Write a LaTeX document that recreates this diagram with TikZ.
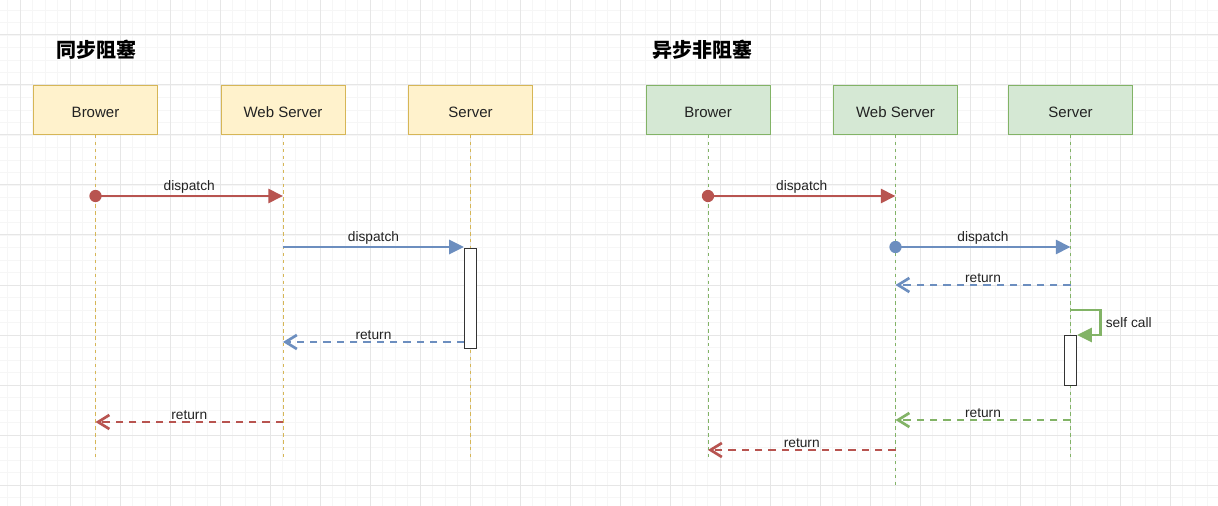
\documentclass[tikz,border=0pt]{standalone}
\usepackage{fontspec}
\setmainfont{Liberation Sans}
\newfontfamily\cjk{Noto Sans CJK SC}
\usepackage{tikz}
\usetikzlibrary{
    arrows.meta,
    positioning,
    calc
}
\definecolor{yfill}{HTML}{FFF2CC}
\definecolor{ystroke}{HTML}{D6B656}
\definecolor{gfill}{HTML}{D5E8D4}
\definecolor{gstroke}{HTML}{82B366}
\definecolor{msgred}{HTML}{B85450}
\definecolor{msgblue}{HTML}{6C8EBF}
\definecolor{gridminor}{HTML}{F6F6F6}
\definecolor{gridmajor}{HTML}{E6E6E6}
\definecolor{textgray}{HTML}{222222}
\tikzset{
    actor/.style={
        rectangle,
        minimum width=93pt,
        minimum height=36.75pt,
        text centered,
        text height=11pt,
        text depth=0pt,
        text=textgray,
        font=\fontsize{11.25}{13}\selectfont,
        line width=0.75pt
    },
    yellowactor/.style={actor, draw=ystroke, fill=yfill},
    greenactor/.style={actor, draw=gstroke, fill=gfill},
    lifeline/.style={
        line width=0.75pt,
        dash pattern=on 2.6pt off 2.6pt
    },
    call/.style={
        -{Triangle[length=11pt, width=10.5pt]},
        line width=2pt
    },
    reply/.style={
        -{Straight Barb[length=8.5pt, width=10.5pt]},
        line width=2pt,
        dash pattern=on 5.5pt off 4.5pt
    },
    msglabel/.style={
        above,
        inner sep=1pt,
        text=textgray,
        font=\fontsize{10.3}{12}\selectfont
    },
    activation/.style={
        rectangle,
        draw=black!80,
        fill=white,
        line width=0.9pt,
        minimum width=9pt,
        inner sep=0pt,
        anchor=north
    },
    heading/.style={
        text=black,
        font=\cjk\bfseries\fontsize{15}{18}\selectfont
    }
}

\begin{document}
\begin{tikzpicture}[x=0.75pt, y=-0.75pt]
    \useasboundingbox (0,0) rectangle (1218,506);
    \fill[white] (0,0) rectangle (1218,506);

    % Grid
    \foreach \gx in {7.5,20,...,1218} {
        \draw[gridminor, line width=0.6pt] (\gx,0) -- (\gx,506);
    }
    \foreach \gy in {10,22.5,...,506} {
        \draw[gridminor, line width=0.6pt] (0,\gy) -- (1218,\gy);
    }
    \foreach \gx in {20,70,...,1218} {
        \draw[gridmajor, line width=0.75pt] (\gx,0) -- (\gx,506);
    }
    \foreach \gy in {35,85,...,506} {
        \draw[gridmajor, line width=0.75pt] (0,\gy) -- (1218,\gy);
    }

    % Titles
    \node[heading] (title1) at (96,50) {同步阻塞};
    \node[heading] (title2) at (702,50) {异步非阻塞};

    % Actors
    \node[yellowactor] (brower1) at (95.5,110) {Brower};
    \node[yellowactor, right=46.875pt of brower1] (web1) {Web Server};
    \node[yellowactor, right=46.875pt of web1] (server1) {Server};

    \node[greenactor] (brower2) at (708,110) {Brower};
    \node[greenactor, right=46.875pt of brower2] (web2) {Web Server};
    \node[greenactor, right=37.5pt of web2] (server2) {Server};

    % Lifelines
    \foreach \n/\e/\c in {
        brower1/460/ystroke,
        web1/460/ystroke,
        server1/460/ystroke,
        brower2/460/gstroke,
        web2/485/gstroke,
        server2/460/gstroke%
    } {
        \coordinate (\n-end) at (\n.south |- 0,\e);
        \draw[lifeline, draw=\c] (\n.south) -- (\n-end);
    }

    % Activations
    \node[activation, minimum height=75pt] (act1) at (server1 |- 0,248) {};
    \node[activation, minimum height=37.5pt] (act2) at (server2 |- 0,335) {};

    % Message points
    \foreach \n/\y/\p in {
        brower1/196/s1, web1/196/s2,
        web1/247/s3,
        web1/342/s5,
        web1/422/s6, brower1/422/s7,
        brower2/196/a1, web2/196/a2,
        web2/247/a3, server2/247/a4,
        server2/285/a5, web2/285/a6,
        server2/310/a7,
        server2/420/a8, web2/420/a9,
        web2/450/a10, brower2/450/a11%
    } {
        \coordinate (\p) at (\n |- 0,\y);
    }
    \coordinate (s3e) at (act1.west |- s3);
    \coordinate (s4) at (act1.west |- s5);

    % Synchronous arrows
    \draw[call, msgred] (s1) -- node[msglabel] {dispatch} (s2);
    \fill[msgred] (s1) circle[radius=4.6pt];
    \draw[call, msgblue] (s3) -- node[msglabel] {dispatch} (s3e);
    \draw[reply, msgblue] (s4) -- node[msglabel] {return} (s5);
    \draw[reply, msgred] (s6) -- node[msglabel] {return} (s7);

    % Asynchronous arrows
    \draw[call, msgred] (a1) -- node[msglabel] {dispatch} (a2);
    \fill[msgred] (a1) circle[radius=4.6pt];
    \draw[call, msgblue] (a3) -- node[msglabel] {dispatch} (a4);
    \fill[msgblue] (a3) circle[radius=4.6pt];
    \draw[reply, msgblue] (a5) -- node[msglabel] {return} (a6);
    \draw[call, gstroke] (a7) -- ++(30,0) |- node[pos=0.25, right, inner sep=3pt, text=textgray, font=\fontsize{10.3}{12}\selectfont] {self call} (act2.north east);
    \draw[reply, gstroke] (a8) -- node[msglabel] {return} (a9);
    \draw[reply, msgred] (a10) -- node[msglabel] {return} (a11);
\end{tikzpicture}
\end{document}
